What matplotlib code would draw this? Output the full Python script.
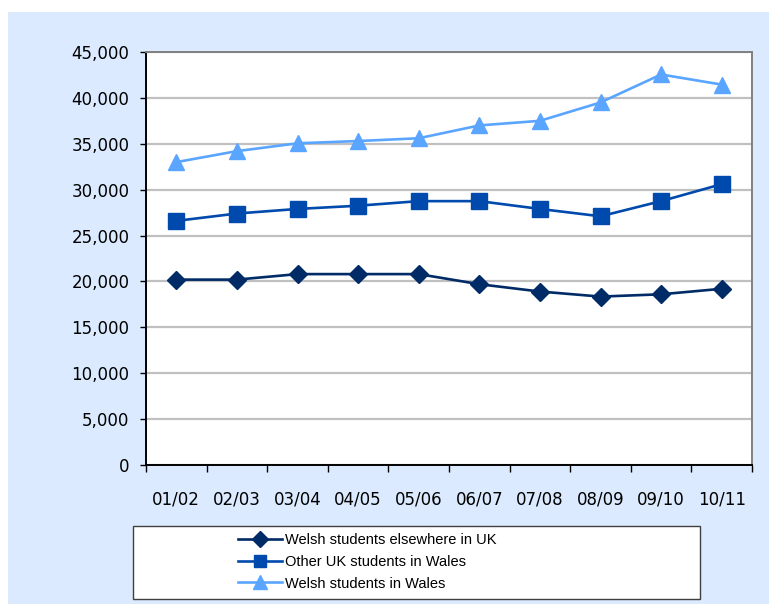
import numpy as np
import matplotlib
matplotlib.use('Agg')
import matplotlib.pyplot as plt
from matplotlib.patches import Rectangle
from matplotlib.ticker import FuncFormatter

plt.rcParams['font.family'] = ['Liberation Sans', 'DejaVu Sans']

years = ['01/02', '02/03', '03/04', '04/05', '05/06',
         '06/07', '07/08', '08/09', '09/10', '10/11']
welsh_elsewhere = [20200, 20200, 20800, 20800, 20800,
                   19700, 18900, 18350, 18600, 19200]
other_uk = [26600, 27400, 27900, 28250, 28750,
            28750, 27900, 27100, 28750, 30600]
welsh_in_wales = [33000, 34200, 35050, 35300, 35600,
                  37000, 37500, 39500, 42550, 41450]

W, H = 769, 606
fig = plt.figure(figsize=(W / 100, H / 100), dpi=100)
fig.patch.set_facecolor('white')

# light blue chart background
fig.patches.append(Rectangle((8 / W, 2 / H), 761 / W, 592 / H,
                             transform=fig.transFigure, facecolor='#dbeafe',
                             edgecolor='none', zorder=-5))

ax = fig.add_axes([146 / W, 1 - 465 / H, 606 / W, 413 / H])
ax.set_facecolor('white')

x = np.arange(len(years))
ax.plot(x, welsh_elsewhere, color='#002b66', lw=1.9, marker='D', ms=9,
        label='Welsh students elsewhere in UK', zorder=3)
ax.plot(x, other_uk, color='#004aad', lw=1.9, marker='s', ms=11,
        label='Other UK students in Wales', zorder=3)
ax.plot(x, welsh_in_wales, color='#5aa5ff', lw=1.9, marker='^', ms=12,
        label='Welsh students in Wales', zorder=3)

ax.set_xlim(-0.5, len(years) - 0.5)
ax.set_ylim(0, 45000)
ax.set_yticks(np.arange(0, 45001, 5000))
ax.yaxis.set_major_formatter(FuncFormatter(lambda v, p: f'{int(v):,}'))
ax.grid(axis='y', color='#c0c0c0', lw=1.6, zorder=1)
ax.set_axisbelow(True)

ax.set_xticks(x)
ax.set_xticklabels(years)
ax.set_xticks(np.arange(-0.5, len(years), 1.0), minor=True)
ax.tick_params(axis='x', which='major', length=0, pad=18)
ax.tick_params(axis='x', which='minor', length=5, width=1, direction='out')
ax.tick_params(axis='y', length=4, width=1, pad=8)
for lab in ax.get_xticklabels() + ax.get_yticklabels():
    lab.set_fontfamily('DejaVu Sans')
    lab.set_fontsize(12)

ax.spines['left'].set_color('black')
ax.spines['bottom'].set_color('black')
ax.spines['top'].set_color('#808080')
ax.spines['right'].set_color('#808080')
for s in ax.spines.values():
    s.set_linewidth(1.4)

# legend box
fig.patches.append(Rectangle((133 / W, 1 - 599 / H), 567 / W, 73 / H,
                             transform=fig.transFigure, facecolor='white',
                             edgecolor='#404040', lw=1.0, zorder=1))
leg = fig.legend(loc='center left', bbox_to_anchor=(231 / W, 1 - 562 / H),
                 frameon=False, fontsize=10.5, handlelength=3.0,
                 handletextpad=0.2, labelspacing=0.52, borderpad=0,
                 markerscale=0.85)
leg.set_zorder(5)

fig.savefig('out.png', dpi=100, facecolor=fig.get_facecolor())
